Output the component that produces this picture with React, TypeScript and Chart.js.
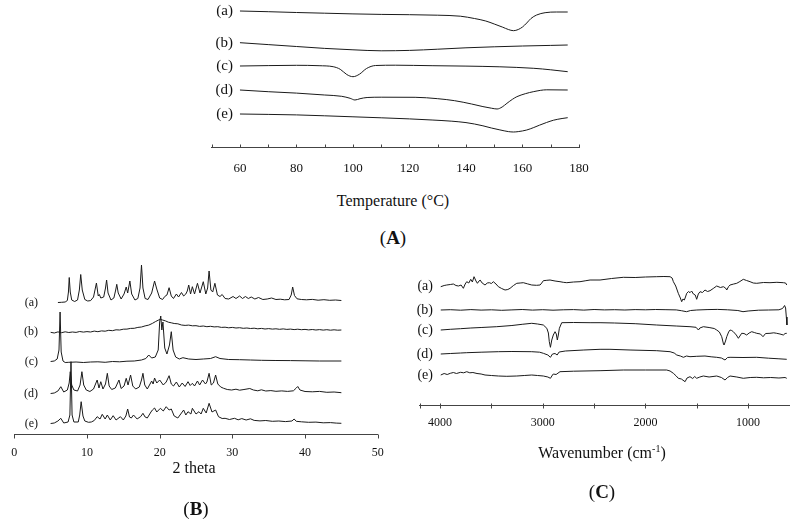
import React, { useEffect, useRef } from 'react';
import { Chart, registerables } from 'chart.js';

Chart.register(...registerables);

const FONT = '"Liberation Serif", "Times New Roman", serif';

type Pt = [number, number];

const traceLabels = ['(a)', '(b)', '(c)', '(d)', '(e)'];

// ---------- (A) DSC : temperature (°C) vs heat flow (a.u.) ----------
const dscTicks = [50, 60, 70, 80, 90, 100, 110, 120, 130, 140, 150, 160, 170, 180];
const dscA: Pt[] = [[60, 136], [70, 135.3], [80, 134.5], [90, 133.8], [100, 133.1], [110, 132.6], [120, 132.3], [130, 131.8], [138, 130.8], [143, 128.5], [147, 126], [150, 123], [153, 119.8], [155, 117.5], [156.8, 116.3], [158.5, 117.5], [160, 120], [161.5, 124], [163, 128.5], [165, 132], [168, 134.3], [172, 135], [176, 135]];
const dscB: Pt[] = [[60, 104.3], [70, 102.4], [80, 100.5], [90, 98.6], [100, 97.2], [110, 96.2], [120, 96.6], [130, 97.8], [140, 99.2], [150, 100.2], [160, 101], [170, 101.6], [176, 102]];
const dscC: Pt[] = [[60, 81], [70, 81.4], [80, 81.7], [88, 81.3], [93, 80.3], [95.5, 77.7], [97.8, 72.5], [100, 70.3], [102.3, 72.8], [104.8, 78.5], [108, 81.5], [115, 81.8], [128, 81.3], [140, 80.9], [152, 80.2], [164, 78.7], [170, 77.2], [176, 75.3]];
const dscD: Pt[] = [[60, 57], [70, 55.3], [80, 53.9], [90, 52], [96, 50.7], [99, 48.7], [100.7, 47], [102.5, 48.3], [105, 49.5], [110, 49.8], [122, 49.7], [130, 48.3], [136, 46.3], [142, 43], [146, 40.4], [149, 38.8], [151, 38], [152.8, 40], [154.5, 43.7], [156.5, 47.8], [158, 50.3], [161, 53.3], [164, 55.4], [168.6, 57.2], [176, 57]];
const dscE: Pt[] = [[60, 33], [70, 32.6], [80, 32.1], [90, 31.2], [100, 30.2], [110, 29.2], [120, 28.1], [128, 27], [135, 25.8], [140, 24.4], [143, 23], [146, 21.2], [149, 19], [152, 17.1], [155, 15.4], [156.8, 15], [158.5, 15.4], [161.5, 17], [164, 19.5], [166, 21.8], [168.5, 24.5], [171, 26.8], [174, 28.5], [176, 29.3]];

// ---------- (B) XRD : 2 theta vs intensity (a.u.) ----------
const xrdTicks = [0, 10, 20, 30, 40, 50];
const xrdA: Pt[] = [[6.0, 131.5], [6.5, 131.7], [7.0, 132], [7.3, 133.5], [7.45, 142], [7.56, 156.5], [7.7, 142], [7.9, 134], [8.3, 132.5], [8.7, 134], [8.95, 144], [9.14, 159.5], [9.35, 144], [9.7, 134.5], [10.1, 133], [10.5, 133.4], [10.9, 137], [11.3, 151], [11.55, 138], [11.7, 139.5], [11.9, 136], [12.3, 137], [12.55, 146], [12.7, 154], [12.9, 141], [13.3, 134], [13.7, 136], [13.95, 144], [14.1, 149.7], [14.3, 141], [14.7, 135], [15.1, 140], [15.4, 147], [15.6, 141], [15.9, 153], [16.15, 140], [16.6, 134], [17.0, 135.5], [17.3, 146], [17.5, 169], [17.7, 146], [18.0, 135.5], [18.4, 134.5], [18.9, 141], [19.3, 153], [19.6, 145], [20.0, 136], [20.4, 134.5], [20.7, 137.5], [21.0, 139], [21.3, 146.3], [21.6, 138], [21.9, 135.5], [22.3, 140], [22.6, 137], [23.0, 141.5], [23.3, 138], [23.6, 140], [23.8, 143], [24.0, 149], [24.25, 140], [24.5, 147.3], [24.8, 140], [25.2, 150.7], [25.55, 141], [26.0, 152.3], [26.35, 140], [26.6, 146], [26.8, 163], [27.05, 144], [27.3, 142], [27.6, 150.7], [27.95, 139], [28.3, 137.5], [28.6, 139.5], [29.0, 135.5], [29.5, 135], [30.1, 137.5], [30.5, 135.5], [31.0, 138], [31.4, 135.5], [31.8, 137.5], [32.2, 135.5], [32.6, 137], [33.1, 135], [33.6, 136.5], [34.2, 134.5], [34.8, 135], [35.4, 136], [36.0, 134.5], [36.6, 134.8], [37.2, 134.2], [37.8, 134.5], [38.1, 139], [38.3, 147], [38.55, 138.5], [38.9, 135.2], [39.5, 134.5], [40.2, 134.2], [41.0, 134.6], [41.8, 133.8], [42.6, 134.3], [43.4, 133.7], [44.2, 134], [45.0, 133.5]];
const xrdB: Pt[] = [[5.0, 101.7], [5.5, 101.0], [6.0, 102.1], [6.5, 101.3], [7.0, 102.2], [7.5, 101.5], [8.0, 102.0], [8.5, 101.6], [9.0, 102.5], [9.5, 101.9], [10.0, 102.4], [10.5, 102.0], [11.0, 102.9], [11.5, 102.3], [12.0, 103.1], [12.5, 102.8], [13.0, 103.7], [13.5, 103.3], [14.0, 104.2], [14.5, 104.0], [15.0, 104.8], [15.5, 104.9], [16.0, 105.6], [16.5, 105.7], [17.0, 106.6], [17.5, 107.0], [18.0, 108.1], [18.5, 108.9], [19.0, 110.6], [19.4, 112.3], [19.8, 113.8], [20.1, 114.6], [20.4, 114.0], [20.8, 113.1], [21.2, 111.8], [21.6, 111.2], [22.0, 110.5], [22.5, 110.2], [23.0, 109.0], [23.5, 108.6], [24.0, 108.9], [24.5, 108.2], [25.0, 108.3], [25.5, 107.6], [26.0, 108.0], [26.5, 107.3], [27.0, 107.7], [27.5, 107.1], [28.0, 107.3], [28.5, 106.6], [29.0, 106.8], [29.5, 106.2], [30.0, 106.6], [30.5, 106.0], [31.0, 106.3], [31.5, 105.7], [32.0, 106.0], [32.5, 105.5], [33.0, 105.8], [33.5, 105.2], [34.0, 105.6], [34.5, 105.0], [35.0, 105.4], [35.5, 104.9], [36.0, 105.2], [36.5, 104.7], [37.0, 105.1], [37.5, 104.6], [38.0, 104.9], [38.5, 104.4], [39.0, 104.8], [39.5, 104.3], [40.0, 104.6], [40.5, 104.1], [41.0, 104.5], [41.5, 104.0], [42.0, 104.4], [42.5, 103.9], [43.0, 104.3], [43.5, 103.8], [44.0, 104.2], [44.5, 103.8], [45.0, 104.0]];
const xrdC: Pt[] = [[5.0, 72.5], [5.5, 73], [5.9, 75], [6.15, 84], [6.3, 122], [6.45, 82], [6.7, 73], [7.0, 71.5], [7.5, 71.7], [8.5, 72], [9.5, 71.5], [10.5, 72], [11.5, 72.2], [12.5, 71.7], [13.5, 72.5], [14.5, 72.2], [15.5, 72.8], [16.5, 73], [17.5, 74], [18.1, 75.5], [18.5, 79], [18.9, 76], [19.4, 77], [19.8, 84], [20.0, 112], [20.15, 118], [20.3, 104], [20.45, 112], [20.7, 86], [21.0, 80], [21.35, 89], [21.6, 102.3], [21.85, 84], [22.2, 77], [22.7, 75], [23.2, 76.3], [24, 75], [25, 74.5], [26, 75], [27, 75.5], [27.7, 77.3], [28.3, 75.5], [29.5, 74.5], [31, 74.3], [32.5, 74], [34, 73.7], [36, 73.5], [38, 73.4], [40, 73.2], [42, 73], [45, 73]];
const xrdD: Pt[] = [[5.0, 40.5], [5.5, 41], [6.0, 43], [6.4, 47.3], [6.8, 42], [7.3, 44], [7.55, 51], [7.7, 62.3], [7.9, 49], [8.2, 44], [8.7, 43], [9.05, 49], [9.3, 62.3], [9.55, 49], [9.9, 44], [10.4, 42.5], [10.9, 45], [11.4, 54], [11.65, 46], [11.9, 52.3], [12.2, 45], [12.55, 50], [12.8, 60.7], [13.05, 48], [13.4, 44.5], [13.9, 46], [14.4, 54], [14.7, 45.5], [15.1, 48], [15.4, 55.7], [15.65, 49], [16.0, 59], [16.3, 48], [16.7, 45], [17.2, 47], [17.5, 54], [17.7, 60.7], [17.95, 49], [18.3, 45], [18.9, 53], [19.1, 50], [19.3, 56], [19.6, 51], [20.0, 54], [20.5, 49], [20.9, 52], [21.3, 58.3], [21.6, 50], [21.9, 48], [22.3, 52], [22.7, 47], [23.1, 51], [23.5, 47.5], [23.9, 52.3], [24.2, 48.5], [24.5, 50.7], [24.8, 48], [25.2, 53], [25.5, 49], [25.9, 54], [26.3, 50], [26.5, 52], [26.8, 60.7], [27.1, 49], [27.4, 51], [27.7, 59], [28.0, 50], [28.4, 47], [28.8, 45.7], [29.3, 44.5], [29.9, 44], [30.5, 44.8], [31.0, 43.8], [31.6, 44.5], [32.4, 45.5], [32.9, 44], [33.5, 43.2], [34.0, 44.2], [34.6, 43], [35.3, 43.4], [36.0, 42.7], [36.8, 43.1], [37.6, 42.6], [38.4, 43.2], [38.8, 46], [39.0, 47.5], [39.3, 44], [40.0, 42.5], [41.0, 42.2], [42.0, 42.6], [43.0, 41.7], [44.0, 42], [45.0, 41.3]];
const xrdE: Pt[] = [[5.0, 10.5], [5.5, 11], [6.0, 13], [6.4, 15.7], [6.8, 11], [7.4, 12], [7.65, 19], [7.8, 72.3], [7.95, 19], [8.2, 12], [8.8, 12], [9.0, 19], [9.2, 32.3], [9.45, 18], [9.7, 13], [10.2, 11.7], [10.6, 12], [11.0, 13.5], [11.4, 17.3], [11.8, 15], [12.1, 19.7], [12.5, 15], [12.8, 19], [13.2, 14], [13.6, 18.3], [14.0, 14], [14.6, 17.3], [15.0, 14], [15.35, 18], [15.6, 25], [15.85, 17], [16.1, 16], [16.4, 19], [16.9, 15], [17.4, 17.5], [17.7, 20.7], [18.0, 17], [18.3, 16], [18.8, 22], [19.0, 24], [19.3, 26], [19.6, 22], [20.1, 25.7], [20.5, 23], [20.9, 27.3], [21.3, 24], [21.6, 25], [22.0, 18], [22.5, 16], [22.9, 20], [23.3, 24], [23.6, 19], [23.9, 22.3], [24.3, 20], [24.5, 25.7], [25.0, 20], [25.4, 22.3], [25.7, 20], [26.0, 25.7], [26.4, 21], [26.8, 30.7], [27.2, 22], [27.7, 24], [28.1, 17.3], [28.6, 15.5], [29.0, 15.7], [29.6, 14.5], [30.3, 15.7], [30.8, 14.2], [31.3, 15.4], [31.9, 14], [32.5, 15.2], [33.0, 13.6], [33.8, 13.1], [34.6, 13.5], [35.5, 12.7], [36.4, 13], [37.3, 12.4], [38.2, 13], [38.5, 15], [38.8, 12.7], [39.5, 12.2], [40.5, 11.7], [41.5, 11.9], [42.5, 11.2], [43.5, 11.4], [44.3, 10.9], [45.0, 10.7]];

// ---------- (C) FTIR : wavenumber (cm-1) vs transmittance (a.u.) ----------
const ftirTicks = [4200, 4000, 3500, 3000, 2500, 2000, 1500, 1000];
const ftirA: Pt[] = [[3993, 118.3], [3960, 119.5], [3935, 120], [3900, 120.5], [3870, 121], [3845, 119.5], [3821, 119], [3795, 120], [3773, 116.7], [3755, 121], [3740, 123.3], [3720, 122], [3701, 125.7], [3685, 123], [3669, 128.3], [3650, 124], [3636, 121.7], [3620, 124], [3610, 125], [3590, 122], [3562, 120], [3540, 122], [3520, 122.3], [3500, 121.5], [3481, 123.3], [3455, 121], [3432, 118.3], [3400, 116.5], [3367, 115], [3340, 115.5], [3318, 116.7], [3285, 119.5], [3253, 121.7], [3220, 122], [3189, 122.3], [3150, 121.2], [3107, 120], [3060, 119.7], [3026, 120], [3010, 122], [2994, 124.3], [2960, 124.7], [2929, 125], [2880, 124], [2832, 123.3], [2800, 122.7], [2766, 122.3], [2700, 123], [2637, 123.3], [2580, 124.3], [2539, 125], [2442, 125], [2330, 126.5], [2215, 127.7], [2100, 127.5], [2000, 128], [1890, 128.3], [1820, 128.5], [1760, 128.3], [1740, 127], [1728, 123.3], [1705, 119], [1680, 111.7], [1660, 107], [1647, 103.3], [1635, 106], [1621, 105], [1610, 108], [1598, 111.7], [1580, 113.5], [1566, 112.3], [1550, 114], [1533, 111], [1515, 110], [1501, 105.7], [1485, 111], [1468, 113.3], [1445, 112.5], [1420, 115], [1395, 113.5], [1371, 114.3], [1340, 116.5], [1306, 119], [1270, 117.5], [1241, 118.3], [1220, 117], [1208, 115], [1190, 118.5], [1176, 120], [1140, 121], [1111, 121.7], [1080, 123.5], [1047, 125.7], [1015, 124.5], [981, 123.3], [950, 122], [916, 121.7], [850, 122.5], [787, 122.3], [720, 122.7], [657, 122.3], [635, 122], [624, 120]];
const ftirB: Pt[] = [[3993, 95], [3900, 95.3], [3800, 94.8], [3700, 95.4], [3600, 94.9], [3500, 95.2], [3400, 94.7], [3300, 95.1], [3200, 95.5], [3100, 94.9], [3000, 95.3], [2900, 94.8], [2800, 95.2], [2700, 95.4], [2600, 94.9], [2500, 95.5], [2400, 95.1], [2300, 95.3], [2200, 95.0], [2100, 95.4], [2000, 95.2], [1900, 95.5], [1800, 95.3], [1700, 95.1], [1650, 94.3], [1600, 93.3], [1560, 94.5], [1500, 95], [1400, 95.4], [1300, 95.6], [1200, 95.2], [1100, 94.5], [1050, 93.3], [1000, 94], [900, 94.8], [800, 95], [700, 95.2], [665, 96.5], [645, 99.5], [635, 97], [628, 88], [622, 80]];
const ftirC: Pt[] = [[3993, 75], [3900, 75.7], [3800, 76.3], [3700, 77], [3600, 77.5], [3448, 78.3], [3300, 79.5], [3200, 80.7], [3107, 81.7], [3050, 81], [2994, 80], [2960, 76.7], [2945, 72], [2936, 63.3], [2925, 57.7], [2912, 65], [2897, 70], [2880, 73.3], [2868, 71], [2858, 65], [2848, 70], [2838, 76.7], [2815, 82.3], [2700, 82.5], [2539, 82.3], [2442, 82.3], [2300, 82], [2100, 81.3], [1890, 80], [1700, 79], [1566, 78.3], [1507, 77.7], [1484, 75], [1470, 77], [1436, 78.3], [1380, 77.5], [1330, 76.5], [1306, 75], [1280, 73], [1257, 68.3], [1240, 61], [1234, 60], [1220, 64], [1208, 68.3], [1190, 73], [1176, 75], [1160, 74.5], [1144, 73.3], [1115, 70], [1095, 66.7], [1080, 69], [1063, 71.7], [1040, 71.5], [1014, 70], [990, 72], [965, 73.3], [940, 72.5], [916, 71.7], [880, 71], [855, 68.3], [830, 71.5], [787, 71.7], [750, 72.2], [722, 71.7], [690, 71], [657, 70], [640, 71.5], [624, 71.7]];
const ftirD: Pt[] = [[3993, 51], [3900, 51.5], [3800, 52], [3740, 52.3], [3600, 52.8], [3432, 53.3], [3300, 53.5], [3107, 53.3], [3030, 52.8], [2994, 51.7], [2950, 50], [2925, 47.7], [2905, 51], [2880, 51.5], [2860, 50], [2840, 53], [2780, 54], [2600, 55], [2442, 55.7], [2345, 55.7], [2150, 55], [1890, 54.3], [1760, 53.3], [1720, 52], [1695, 50], [1660, 49], [1630, 47.7], [1600, 49], [1566, 48.3], [1500, 48.7], [1420, 49], [1360, 48.2], [1306, 47.7], [1260, 47], [1225, 45], [1200, 47.5], [1176, 47.7], [1050, 47.5], [916, 47.7], [800, 46.8], [700, 46.2], [624, 45.7]];
const ftirE: Pt[] = [[3993, 30], [3960, 31.5], [3930, 30.5], [3900, 31.7], [3870, 32.5], [3840, 31.5], [3800, 32.7], [3770, 32.2], [3740, 33.3], [3710, 32.2], [3680, 32.5], [3640, 31.5], [3600, 31], [3562, 30], [3500, 29.5], [3432, 29], [3350, 28.7], [3253, 29], [3180, 29.5], [3107, 30], [3050, 29.5], [2994, 29], [2950, 28], [2925, 26.7], [2905, 30], [2897, 31], [2870, 30.5], [2832, 33.3], [2700, 33.8], [2442, 34.3], [2215, 35], [2000, 35], [1793, 35], [1760, 34], [1728, 31.7], [1700, 29], [1680, 26.7], [1650, 26], [1614, 23.3], [1595, 27], [1566, 28.3], [1540, 26.5], [1520, 28.5], [1501, 26.7], [1470, 28], [1436, 29], [1380, 28], [1306, 29], [1260, 27.5], [1225, 25], [1200, 27.5], [1176, 29], [1110, 28], [1047, 26.7], [980, 27.5], [916, 27.7], [850, 27.2], [780, 27.5], [700, 27], [640, 27.5], [624, 26.7]];

// ---------- plugins ----------
const axisTicksPlugin = {
  id: 'axisTicks',
  afterDraw(chart: any, _args: any, opts: any) {
    const s = chart.scales.x;
    const ctx = chart.ctx;
    const y = Math.round(chart.chartArea.bottom) + 0.5;
    ctx.save();
    ctx.strokeStyle = opts.color || '#444';
    ctx.lineWidth = 1;
    ctx.beginPath();
    s.ticks.forEach((t: any) => {
      const x = Math.round(s.getPixelForValue(t.value)) + 0.5;
      ctx.moveTo(x, y - (opts.up || 0));
      ctx.lineTo(x, y + (opts.down || 0));
    });
    ctx.stroke();
    ctx.restore();
  },
};

const traceLabelPlugin = {
  id: 'traceLabels',
  afterDatasetsDraw(chart: any, _args: any, opts: any) {
    const ctx = chart.ctx;
    ctx.save();
    ctx.font = `${opts.size}px ${FONT}`;
    ctx.fillStyle = '#111';
    ctx.textAlign = 'right';
    ctx.textBaseline = 'middle';
    chart.data.datasets.forEach((ds: any, i: number) => {
      const meta = chart.getDatasetMeta(i);
      const first = meta.data[0];
      if (!first) return;
      ctx.fillText(ds.label, opts.right, first.y + (opts.dy || 0));
    });
    ctx.restore();
  },
};

interface PanelProps {
  left: number;
  top: number;
  width: number;
  height: number;
  pad: { left: number; right: number; top: number; bottom: number };
  xMin: number;
  xMax: number;
  reverse?: boolean;
  ticks: number[];
  labelEvery: number;
  yMax: number;
  series: Pt[][];
  smooth?: boolean;
  tickFont: number;
  tickPad: number;
  tickUp: number;
  tickDown: number;
  labelRight: number;
  labelFont: number;
}

function Panel(p: PanelProps) {
  const ref = useRef<HTMLCanvasElement | null>(null);
  useEffect(() => {
    if (!ref.current) return;
    const chart = new Chart(ref.current, {
      type: 'line',
      data: {
        datasets: p.series.map((s, i) => ({
          label: traceLabels[i],
          data: s.map(([x, y]) => ({ x, y })),
          borderColor: '#1a1a1a',
          borderWidth: 1,
          pointRadius: 0,
          fill: false,
          tension: 0,
          cubicInterpolationMode: p.smooth ? 'monotone' : 'default',
        })),
      },
      options: {
        animation: false,
        responsive: false,
        devicePixelRatio: 1,
        layout: { padding: p.pad },
        plugins: {
          legend: { display: false },
          tooltip: { enabled: false },
          axisTicks: { up: p.tickUp, down: p.tickDown, color: '#444' },
          traceLabels: { right: p.labelRight, size: p.labelFont },
        } as any,
        scales: {
          x: {
            type: 'linear',
            min: p.xMin,
            max: p.xMax,
            reverse: !!p.reverse,
            grid: { display: false, drawTicks: false },
            border: { display: true, color: '#444', width: 1 },
            ticks: {
              autoSkip: false,
              maxRotation: 0,
              minRotation: 0,
              padding: p.tickPad,
              color: '#111',
              font: { family: FONT, size: p.tickFont },
              callback: (v: any) => (Number(v) % p.labelEvery === 0 ? String(v) : ''),
            },
            afterBuildTicks: (s: any) => {
              s.ticks = p.ticks.map((v) => ({ value: v }));
            },
            afterFit: (s: any) => {
              s.height = 40;
            },
          },
          y: { display: false, min: 0, max: p.yMax },
        },
      },
      plugins: [axisTicksPlugin, traceLabelPlugin],
    } as any);
    return () => chart.destroy();
  }, []);
  return (
    <canvas
      ref={ref}
      width={p.width}
      height={p.height}
      style={{ position: 'absolute', left: p.left, top: p.top, width: p.width, height: p.height }}
    />
  );
}

function Text(props: { x: number; y: number; size: number; children: React.ReactNode }) {
  return (
    <div
      style={{
        position: 'absolute',
        left: props.x,
        top: props.y,
        transform: 'translate(-50%, -50%)',
        fontFamily: FONT,
        fontSize: props.size,
        lineHeight: 1,
        whiteSpace: 'nowrap',
        color: '#111',
      }}
    >
      {props.children}
    </div>
  );
}

export default function App() {
  return (
    <div style={{ position: 'absolute', left: 0, top: 0, width: 793, height: 521, background: '#fff', overflow: 'hidden' }}>
      <Panel
        left={180}
        top={0}
        width={430}
        height={187}
        pad={{ left: 31.7, right: 31, top: 0, bottom: 0 }}
        xMin={50}
        xMax={180}
        ticks={dscTicks}
        labelEvery={20}
        yMax={147}
        series={[dscA, dscB, dscC, dscD, dscE]}
        smooth
        tickFont={13}
        tickPad={14.2}
        tickUp={3}
        tickDown={0}
        labelRight={53}
        labelFont={15}
      />
      <Panel
        left={0}
        top={255}
        width={400}
        height={219}
        pad={{ left: 9.3, right: 22.3, top: 0, bottom: 0 }}
        xMin={0}
        xMax={50}
        ticks={xrdTicks}
        labelEvery={10}
        yMax={179}
        series={[xrdA, xrdB, xrdC, xrdD, xrdE]}
        tickFont={12}
        tickPad={11.3}
        tickUp={0}
        tickDown={4}
        labelRight={38}
        labelFont={12}
      />
      <Panel
        left={400}
        top={265}
        width={393}
        height={180}
        pad={{ left: 19.5, right: 3.8, top: 0, bottom: 0 }}
        xMin={600}
        xMax={4200}
        reverse
        ticks={ftirTicks}
        labelEvery={1000}
        yMax={140}
        series={[ftirA, ftirB, ftirC, ftirD, ftirE]}
        tickFont={12}
        tickPad={10.8}
        tickUp={2}
        tickDown={3}
        labelRight={33}
        labelFont={14}
      />
      <Text x={393} y={201} size={16}>Temperature (°C)</Text>
      <Text x={393} y={237} size={19}>(<b>A</b>)</Text>
      <Text x={194} y={467.5} size={16}>2 theta</Text>
      <Text x={196} y={508} size={19}>(<b>B</b>)</Text>
      <Text x={602} y={453} size={16}>
        Wavenumber (cm<span style={{ fontSize: 10, position: 'relative', top: -6 }}>-1</span>)
      </Text>
      <Text x={602} y={491} size={19}>(<b>C</b>)</Text>
    </div>
  );
}
